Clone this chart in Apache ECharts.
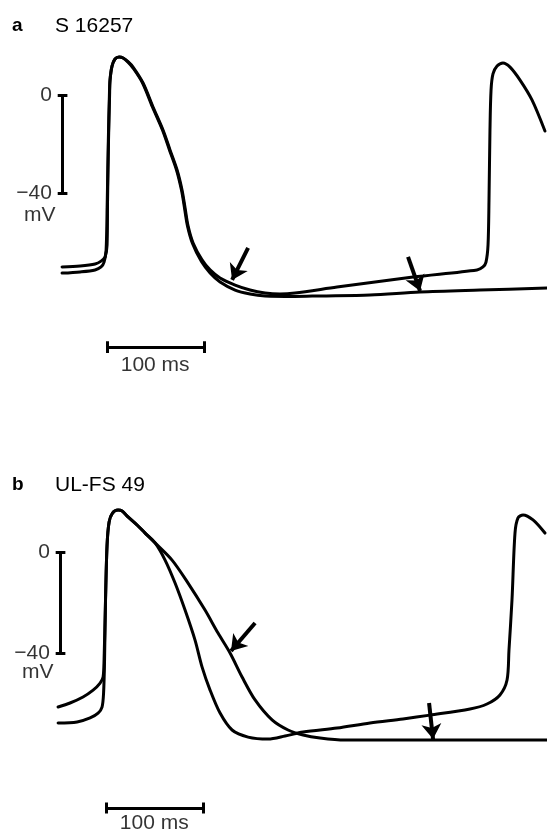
<!DOCTYPE html>
<html>
<head>
<meta charset="utf-8">
<script src="https://cdn.jsdelivr.net/npm/echarts@6/dist/echarts.min.js"></script>
<style>
html,body{margin:0;padding:0;background:#fff;}
#chart{width:547px;height:834px;}
</style>
</head>
<body>
<div id="chart"></div>
<script>
// panel titles
var panelLetters = ['a', 'b'];
var panelNames = ['S 16257', 'UL-FS 49'];

// scale bars
var mvTicks = [0, -40];
var mvUnit = 'mV';
var msLength = 100;
var msUnit = 'ms';

// traces, [time ms, potential mV]
var aTrace1 = [[0,-70.2],[18.6,-69.8],[34.0,-69.0],[40.2,-67.8],[44.3,-66.1],[46.4,-61.2],[46.9,-42.9],[47.9,-18.4],[49.0,0],[49.5,6.1],[51.5,11.8],[54.6,14.7],[58.8,15.5],[62.9,15.1],[68.0,13.6],[73.2,11.4],[83.5,4.9],[93.8,-4.9],[104.1,-14.3],[111.3,-22.4],[118.6,-30.6],[123.7,-38.8],[126.8,-46.0],[129.9,-53.4],[135.1,-60.4],[144.3,-67.3],[152.6,-71.4],[162.9,-74.7],[178.4,-77.6],[193.8,-79.6],[209.3,-80.8],[224.7,-81.2],[240.2,-80.8],[283.5,-78.4],[361.9,-74.3],[427.8,-71.4],[434.0,-70.2],[437.1,-68.2],[439.2,-61.2],[440.2,-42.9],[441.2,-14.3],[442.3,2.0],[444.3,8.6],[448.5,11.8],[454.6,13.1],[461.9,11.4],[472.2,6.1],[484.5,-2.0],[497.9,-14.7]];
var aTrace2 = [[0,-72.7],[18.6,-72.2],[34.0,-71.4],[40.2,-70.2],[43.3,-68.2],[45.4,-63.3],[46.6,-42.9],[47.7,-18.4],[48.8,0],[49.4,6.1],[51.5,11.8],[54.6,14.7],[58.8,15.5],[62.9,15.1],[68.0,13.4],[73.2,11.0],[83.0,4.9],[93.2,-4.9],[103.5,-14.3],[110.7,-22.4],[118.0,-30.6],[123.1,-38.8],[126.2,-46.0],[129.3,-53.4],[134.5,-60.6],[143.7,-68.0],[152.6,-72.6],[162.9,-76.3],[178.4,-79.6],[193.8,-81.2],[209.3,-82.0],[240.0,-82.2],[266.0,-82.0],[317.5,-81.6],[369.1,-80.4],[430.9,-79.6],[500,-78.8]];
var bTrace1 = [[-4.1,-61.4],[8.2,-59.8],[21.6,-57.4],[32.0,-54.7],[39.2,-51.9],[42.3,-49.5],[43.3,-42.8],[44.8,-19.0],[46.4,2.8],[48.5,11.9],[52.0,15.4],[57.7,16.6],[61.9,16.2],[68.0,13.9],[77.3,10.7],[85.6,7.5],[95.9,3.6],[106.2,-3.2],[116.5,-12.3],[126.8,-23.0],[137.1,-34.9],[144.3,-45.5],[152.6,-54.7],[162.9,-63.8],[175.3,-70.5],[191.8,-73.3],[212.4,-74.1],[229.9,-72.9],[248.5,-71.3],[283.5,-69.7],[317.5,-67.7],[351.5,-66.1],[379.4,-64.6],[420.6,-62.2],[438.1,-60.2],[451.5,-56.6],[458.8,-50.7],[460.8,-38.8],[463.9,-19.0],[467.0,7.5],[470.1,13.5],[475.3,14.7],[485.6,12.7],[497.9,7.5]];
var bTrace2 = [[-4.1,-67.7],[15.5,-67.3],[28.9,-65.7],[37.1,-63.8],[41.2,-61.4],[42.8,-55.8],[43.8,-42.8],[44.8,-19.0],[46.4,2.8],[48.5,11.9],[52.0,15.4],[57.7,16.6],[61.9,16.2],[68.0,13.9],[77.3,10.7],[85.6,7.5],[95.9,3.6],[113.4,-3.2],[129.9,-12.3],[147.4,-23.0],[160.8,-32.1],[173.2,-40.0],[185.6,-49.5],[199.0,-58.6],[216.5,-66.5],[233.0,-70.5],[248.5,-72.5],[266.0,-73.7],[291.8,-74.5],[369.1,-74.5],[500,-74.5]];

// arrows, [tail, tip]
var aArrows = [[[191.8,-62.4],[175.3,-75.5]], [[356.7,-66.1],[369.1,-80.0]]];
var bArrows = [[[199.0,-28.1],[174.2,-39.2]], [[378.4,-59.8],[382.5,-74.1]]];

var panels = [
	{top:21.5, height:367.5, yMin:-120, yMax:30, traces:[aTrace1,aTrace2], arrows:aArrows,
	 vBarT:0, hBarT:47, hBarV:-102.9, hTick:2.4, mvLabelV:-49, msLabelV:-110.2, titleY:26},
	{top:476.25, height:353.5, yMin:-110, yMax:30, traces:[bTrace1,bTrace2], arrows:bArrows,
	 vBarT:-2.1, hBarT:46, hBarV:-101.4, hTick:2.2, mvLabelV:-47.5, msLabelV:-107.3, titleY:485}
];

var font = '"Liberation Sans", Arial, Helvetica, sans-serif';
var grids = [], xAxes = [], yAxes = [], series = [], graphics = [];

function fmt(v){
	return String(v).replace('-', '\u2212');
}

panels.forEach(function(p, i){
	grids.push({left:0, right:0, top:p.top, height:p.height});
	xAxes.push({type:'value', gridIndex:i, min:-64, max:500, show:false});
	yAxes.push({type:'value', gridIndex:i, min:p.yMin, max:p.yMax, show:false});

	p.traces.forEach(function(tr){
		series.push({
			type:'line', xAxisIndex:i, yAxisIndex:i, data:tr,
			symbol:'none', smooth:0.3, clip:false, silent:true,
			lineStyle:{color:'#000', width:3, cap:'round', join:'round'}
		});
	});

	// arrows
	series.push({
		type:'lines', coordinateSystem:'cartesian2d', xAxisIndex:i, yAxisIndex:i,
		symbol:['none','arrow'], symbolSize:15, silent:true,
		lineStyle:{color:'#000', width:4, opacity:1},
		data:p.arrows.map(function(a){ return {coords:a}; })
	});

	// scale bars
	var segs = [];
	segs.push([[p.vBarT, mvTicks[0]], [p.vBarT, mvTicks[1]]]);
	mvTicks.forEach(function(v){
		segs.push([[p.vBarT - 4.5, v], [p.vBarT + 5.5, v]]);
	});
	segs.push([[p.hBarT, p.hBarV], [p.hBarT + msLength, p.hBarV]]);
	segs.push([[p.hBarT, p.hBarV + p.hTick], [p.hBarT, p.hBarV - p.hTick]]);
	segs.push([[p.hBarT + msLength, p.hBarV + p.hTick], [p.hBarT + msLength, p.hBarV - p.hTick]]);
	series.push({
		type:'lines', coordinateSystem:'cartesian2d', xAxisIndex:i, yAxisIndex:i,
		symbol:'none', silent:true,
		lineStyle:{color:'#000', width:3, opacity:1},
		data:segs.map(function(s){ return {coords:s}; })
	});

	// scale labels
	var labels = mvTicks.map(function(v){
		return {value:[p.vBarT - 10.5, v], label:{position:'left', distance:0, formatter:fmt(v)}};
	});
	labels.push({value:[p.vBarT - 23, p.mvLabelV], label:{position:'inside', formatter:mvUnit}});
	labels.push({value:[p.hBarT + msLength/2 - 1, p.msLabelV], label:{position:'inside', formatter:msLength + ' ' + msUnit}});
	series.push({
		type:'scatter', xAxisIndex:i, yAxisIndex:i, symbolSize:0, silent:true, clip:false,
		label:{show:true, color:'#000', fontSize:21, fontFamily:font},
		data:labels
	});

	graphics.push({type:'text', x:12, y:p.titleY, style:{text:panelLetters[i], font:'bold 19px ' + font, fill:'#000', verticalAlign:'middle'}});
	graphics.push({type:'text', x:55, y:p.titleY, style:{text:panelNames[i], font:'21px ' + font, fill:'#000', verticalAlign:'middle'}});
});

var chart = echarts.init(document.getElementById('chart'));
chart.setOption({
	animation:false,
	backgroundColor:'#fff',
	grid:grids,
	xAxis:xAxes,
	yAxis:yAxes,
	graphic:graphics,
	series:series
});
</script>
</body>
</html>
